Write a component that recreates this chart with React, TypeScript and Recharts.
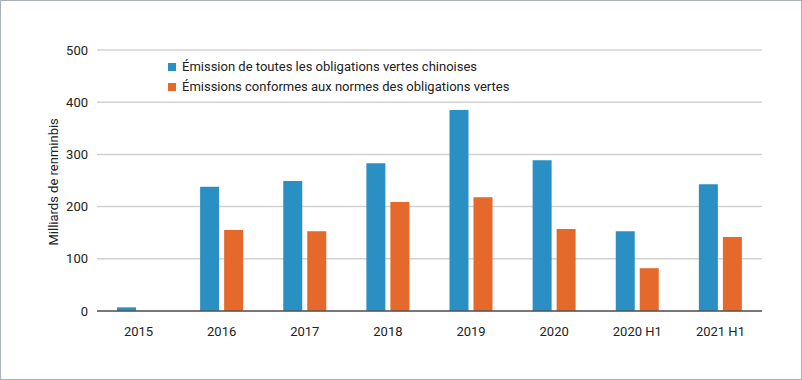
import { BarChart, Bar, XAxis, YAxis, CartesianGrid } from 'recharts';

const categories = ['2015', '2016', '2017', '2018', '2019', '2020', '2020 H1', '2021 H1'];
const allGreenBonds = [7, 238, 249, 283, 385, 289, 153, 243];
const compliantBonds = [0, 155, 153, 209, 218, 157, 82, 142];
const yTicks = [0, 100, 200, 300, 400, 500];

const SERIES = [
  { key: 'all', name: 'Émission de toutes les obligations vertes chinoises', color: '#2a8fc2' },
  { key: 'compliant', name: 'Émissions conformes aux normes des obligations vertes', color: '#e5692a' },
];

const FONT = 'Roboto, "Noto Sans", sans-serif';

const data = categories.map((c, i) => ({
  name: c,
  all: allGreenBonds[i],
  compliant: compliantBonds[i] || null,
}));

function LegendBox() {
  return (
    <div
      style={{
        position: 'absolute',
        left: 168,
        top: 57,
        fontFamily: FONT,
        fontSize: 13,
        color: '#222',
        lineHeight: '20px',
      }}
    >
      {SERIES.map((s) => (
        <div key={s.key} style={{ display: 'flex', alignItems: 'center' }}>
          <span style={{ width: 8, height: 8, background: s.color, marginRight: 6, display: 'inline-block' }} />
          {s.name}
        </div>
      ))}
    </div>
  );
}

export default function App() {
  return (
    <div
      style={{
        position: 'absolute',
        left: 0,
        top: 0,
        width: 802,
        height: 380,
        border: '1px solid #a9b0b7',
        boxSizing: 'border-box',
        background: '#fff',
      }}
    >
      <div style={{ position: 'absolute', left: -1, top: -1 }}>
        <BarChart
          width={802}
          height={380}
          data={data}
          margin={{ top: 50, right: 40, left: 0, bottom: 39 }}
          barGap={5}
          barSize={19}
        >
          <CartesianGrid vertical={false} stroke="#d2d2d2" strokeWidth={1.5} />
          <XAxis
            dataKey="name"
            height={30}
            tickLine={false}
            tickSize={0}
            tickMargin={16}
            axisLine={{ stroke: '#555', strokeWidth: 1.5 }}
            tick={{ fontFamily: FONT, fontSize: 13, fill: '#222' }}
          />
          <YAxis
            width={97}
            domain={[0, 500]}
            ticks={yTicks}
            axisLine={false}
            tickLine={false}
            tickSize={0}
            tickMargin={9}
            tick={{ fontFamily: FONT, fontSize: 13, fill: '#222' }}
            label={{
              value: 'Milliards de renminbis',
              angle: -90,
              position: 'insideLeft',
              dx: 48,
              dy: 65,
              style: { fontFamily: FONT, fontSize: 13, fill: '#222' },
            }}
          />
          {SERIES.map((s) => (
            <Bar key={s.key} dataKey={s.key} name={s.name} fill={s.color} isAnimationActive={false} />
          ))}
        </BarChart>
        <LegendBox />
      </div>
    </div>
  );
}
